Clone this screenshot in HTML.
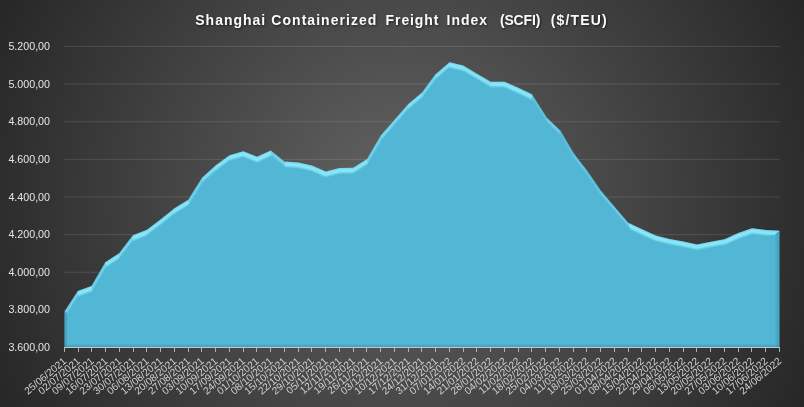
<!DOCTYPE html>
<html lang="en"><head><meta charset="utf-8"><title>Shanghai Containerized Freight Index (SCFI)</title>
<style>
html,body{margin:0;padding:0;background:#262626;}
body{width:804px;height:407px;overflow:hidden;font-family:"Liberation Sans",sans-serif;}
#chart{position:relative;width:804px;height:407px;overflow:hidden;
background:radial-gradient(circle 452px at 402px 203px,#646464 0%,#262626 100%);}
svg{position:absolute;left:0;top:0;}
.yl{font-family:"Liberation Sans",sans-serif;font-size:10.7px;fill:#e4e4e4;text-anchor:end;}
.xl{font-family:"Liberation Sans",sans-serif;font-size:10.2px;fill:#d2d2d2;text-anchor:end;}
.tt{font-family:"Liberation Sans",sans-serif;font-weight:bold;font-size:14px;fill:#fbfbfb;}
</style></head><body>
<div id="chart">
<svg width="804" height="407" viewBox="0 0 804 407">
<defs>
<clipPath id="ac"><path d="M64.50,347.50 L64.50,311.42 L77.75,290.90 L91.50,285.98 L105.25,262.31 L119.10,253.24 L132.85,235.33 L147.00,229.76 L160.75,219.29 L174.50,208.25 L188.25,199.71 L202.00,177.69 L215.75,165.36 L229.50,155.14 L243.25,151.14 L257.00,156.72 L270.75,150.42 L284.50,161.62 L298.25,162.50 L312.00,165.53 L325.75,171.43 L339.50,168.02 L353.25,167.80 L367.00,159.00 L380.75,135.47 L394.50,119.68 L408.25,103.95 L422.00,92.40 L435.25,74.55 L449.50,62.21 L463.25,65.57 L477.00,73.63 L490.75,81.68 L504.50,81.68 L518.25,87.71 L532.00,94.28 L546.95,117.68 L560.50,130.72 L574.05,153.86 L587.00,170.60 L600.75,190.59 L614.50,206.65 L628.25,222.65 L642.00,229.24 L655.75,235.38 L669.50,238.90 L683.25,241.45 L697.00,244.44 L710.75,241.64 L724.50,239.26 L738.25,233.12 L752.00,228.36 L765.75,229.99 L779.50,230.69 L779.50,347.50 Z"/></clipPath>
<filter id="bl" x="-5%" y="-5%" width="110%" height="110%"><feGaussianBlur stdDeviation="0.5"/></filter>
<filter id="ts" x="-5%" y="-50%" width="110%" height="200%"><feGaussianBlur stdDeviation="0.8"/></filter>
<linearGradient id="g0" gradientUnits="userSpaceOnUse" x1="71.12" y1="301.16" x2="74.34" y2="303.23"><stop offset="0" stop-color="#94f0ff" stop-opacity="0.268"/><stop offset="0.2" stop-color="#94f0ff" stop-opacity="0.385"/><stop offset="0.42" stop-color="#94f0ff" stop-opacity="0.471"/><stop offset="0.65" stop-color="#94f0ff" stop-opacity="0.353"/><stop offset="0.85" stop-color="#94f0ff" stop-opacity="0.139"/><stop offset="1" stop-color="#94f0ff" stop-opacity="0.000"/></linearGradient>
<linearGradient id="g1" gradientUnits="userSpaceOnUse" x1="84.62" y1="288.44" x2="86.73" y2="294.31"><stop offset="0" stop-color="#94f0ff" stop-opacity="0.500"/><stop offset="0.2" stop-color="#94f0ff" stop-opacity="0.720"/><stop offset="0.42" stop-color="#94f0ff" stop-opacity="0.880"/><stop offset="0.65" stop-color="#94f0ff" stop-opacity="0.660"/><stop offset="0.85" stop-color="#94f0ff" stop-opacity="0.260"/><stop offset="1" stop-color="#94f0ff" stop-opacity="0.000"/></linearGradient>
<linearGradient id="g2" gradientUnits="userSpaceOnUse" x1="98.38" y1="274.14" x2="101.63" y2="276.04"><stop offset="0" stop-color="#94f0ff" stop-opacity="0.255"/><stop offset="0.2" stop-color="#94f0ff" stop-opacity="0.367"/><stop offset="0.42" stop-color="#94f0ff" stop-opacity="0.449"/><stop offset="0.65" stop-color="#94f0ff" stop-opacity="0.337"/><stop offset="0.85" stop-color="#94f0ff" stop-opacity="0.133"/><stop offset="1" stop-color="#94f0ff" stop-opacity="0.000"/></linearGradient>
<linearGradient id="g3" gradientUnits="userSpaceOnUse" x1="112.17" y1="257.77" x2="115.12" y2="262.27"><stop offset="0" stop-color="#94f0ff" stop-opacity="0.484"/><stop offset="0.2" stop-color="#94f0ff" stop-opacity="0.697"/><stop offset="0.42" stop-color="#94f0ff" stop-opacity="0.852"/><stop offset="0.65" stop-color="#94f0ff" stop-opacity="0.639"/><stop offset="0.85" stop-color="#94f0ff" stop-opacity="0.252"/><stop offset="1" stop-color="#94f0ff" stop-opacity="0.000"/></linearGradient>
<linearGradient id="g4" gradientUnits="userSpaceOnUse" x1="125.97" y1="244.28" x2="129.12" y2="246.70"><stop offset="0" stop-color="#94f0ff" stop-opacity="0.310"/><stop offset="0.2" stop-color="#94f0ff" stop-opacity="0.446"/><stop offset="0.42" stop-color="#94f0ff" stop-opacity="0.545"/><stop offset="0.65" stop-color="#94f0ff" stop-opacity="0.409"/><stop offset="0.85" stop-color="#94f0ff" stop-opacity="0.161"/><stop offset="1" stop-color="#94f0ff" stop-opacity="0.000"/></linearGradient>
<linearGradient id="g5" gradientUnits="userSpaceOnUse" x1="139.93" y1="232.55" x2="142.21" y2="238.34"><stop offset="0" stop-color="#94f0ff" stop-opacity="0.500"/><stop offset="0.2" stop-color="#94f0ff" stop-opacity="0.720"/><stop offset="0.42" stop-color="#94f0ff" stop-opacity="0.880"/><stop offset="0.65" stop-color="#94f0ff" stop-opacity="0.660"/><stop offset="0.85" stop-color="#94f0ff" stop-opacity="0.260"/><stop offset="1" stop-color="#94f0ff" stop-opacity="0.000"/></linearGradient>
<linearGradient id="g6" gradientUnits="userSpaceOnUse" x1="153.88" y1="224.52" x2="156.89" y2="228.48"><stop offset="0" stop-color="#94f0ff" stop-opacity="0.464"/><stop offset="0.2" stop-color="#94f0ff" stop-opacity="0.667"/><stop offset="0.42" stop-color="#94f0ff" stop-opacity="0.816"/><stop offset="0.65" stop-color="#94f0ff" stop-opacity="0.612"/><stop offset="0.85" stop-color="#94f0ff" stop-opacity="0.241"/><stop offset="1" stop-color="#94f0ff" stop-opacity="0.000"/></linearGradient>
<linearGradient id="g7" gradientUnits="userSpaceOnUse" x1="167.62" y1="213.77" x2="170.65" y2="217.53"><stop offset="0" stop-color="#94f0ff" stop-opacity="0.449"/><stop offset="0.2" stop-color="#94f0ff" stop-opacity="0.646"/><stop offset="0.42" stop-color="#94f0ff" stop-opacity="0.790"/><stop offset="0.65" stop-color="#94f0ff" stop-opacity="0.592"/><stop offset="0.85" stop-color="#94f0ff" stop-opacity="0.233"/><stop offset="1" stop-color="#94f0ff" stop-opacity="0.000"/></linearGradient>
<linearGradient id="g8" gradientUnits="userSpaceOnUse" x1="181.38" y1="203.98" x2="184.29" y2="208.66"><stop offset="0" stop-color="#94f0ff" stop-opacity="0.491"/><stop offset="0.2" stop-color="#94f0ff" stop-opacity="0.707"/><stop offset="0.42" stop-color="#94f0ff" stop-opacity="0.864"/><stop offset="0.65" stop-color="#94f0ff" stop-opacity="0.648"/><stop offset="0.85" stop-color="#94f0ff" stop-opacity="0.255"/><stop offset="1" stop-color="#94f0ff" stop-opacity="0.000"/></linearGradient>
<linearGradient id="g9" gradientUnits="userSpaceOnUse" x1="195.12" y1="188.70" x2="198.35" y2="190.71"><stop offset="0" stop-color="#94f0ff" stop-opacity="0.260"/><stop offset="0.2" stop-color="#94f0ff" stop-opacity="0.374"/><stop offset="0.42" stop-color="#94f0ff" stop-opacity="0.458"/><stop offset="0.65" stop-color="#94f0ff" stop-opacity="0.343"/><stop offset="0.85" stop-color="#94f0ff" stop-opacity="0.135"/><stop offset="1" stop-color="#94f0ff" stop-opacity="0.000"/></linearGradient>
<linearGradient id="g10" gradientUnits="userSpaceOnUse" x1="208.88" y1="171.53" x2="211.89" y2="174.89"><stop offset="0" stop-color="#94f0ff" stop-opacity="0.402"/><stop offset="0.2" stop-color="#94f0ff" stop-opacity="0.579"/><stop offset="0.42" stop-color="#94f0ff" stop-opacity="0.707"/><stop offset="0.65" stop-color="#94f0ff" stop-opacity="0.531"/><stop offset="0.85" stop-color="#94f0ff" stop-opacity="0.209"/><stop offset="1" stop-color="#94f0ff" stop-opacity="0.000"/></linearGradient>
<linearGradient id="g11" gradientUnits="userSpaceOnUse" x1="222.62" y1="160.25" x2="225.63" y2="164.29"><stop offset="0" stop-color="#94f0ff" stop-opacity="0.467"/><stop offset="0.2" stop-color="#94f0ff" stop-opacity="0.672"/><stop offset="0.42" stop-color="#94f0ff" stop-opacity="0.822"/><stop offset="0.65" stop-color="#94f0ff" stop-opacity="0.616"/><stop offset="0.85" stop-color="#94f0ff" stop-opacity="0.243"/><stop offset="1" stop-color="#94f0ff" stop-opacity="0.000"/></linearGradient>
<linearGradient id="g12" gradientUnits="userSpaceOnUse" x1="236.38" y1="153.14" x2="238.13" y2="159.16"><stop offset="0" stop-color="#94f0ff" stop-opacity="0.500"/><stop offset="0.2" stop-color="#94f0ff" stop-opacity="0.720"/><stop offset="0.42" stop-color="#94f0ff" stop-opacity="0.880"/><stop offset="0.65" stop-color="#94f0ff" stop-opacity="0.660"/><stop offset="0.85" stop-color="#94f0ff" stop-opacity="0.260"/><stop offset="1" stop-color="#94f0ff" stop-opacity="0.000"/></linearGradient>
<linearGradient id="g13" gradientUnits="userSpaceOnUse" x1="250.12" y1="153.93" x2="247.78" y2="159.70"><stop offset="0" stop-color="#94f0ff" stop-opacity="0.500"/><stop offset="0.2" stop-color="#94f0ff" stop-opacity="0.720"/><stop offset="0.42" stop-color="#94f0ff" stop-opacity="0.880"/><stop offset="0.65" stop-color="#94f0ff" stop-opacity="0.660"/><stop offset="0.85" stop-color="#94f0ff" stop-opacity="0.260"/><stop offset="1" stop-color="#94f0ff" stop-opacity="0.000"/></linearGradient>
<linearGradient id="g14" gradientUnits="userSpaceOnUse" x1="263.88" y1="153.57" x2="266.46" y2="159.21"><stop offset="0" stop-color="#94f0ff" stop-opacity="0.500"/><stop offset="0.2" stop-color="#94f0ff" stop-opacity="0.720"/><stop offset="0.42" stop-color="#94f0ff" stop-opacity="0.880"/><stop offset="0.65" stop-color="#94f0ff" stop-opacity="0.660"/><stop offset="0.85" stop-color="#94f0ff" stop-opacity="0.260"/><stop offset="1" stop-color="#94f0ff" stop-opacity="0.000"/></linearGradient>
<linearGradient id="g15" gradientUnits="userSpaceOnUse" x1="277.62" y1="156.02" x2="274.90" y2="159.36"><stop offset="0" stop-color="#94f0ff" stop-opacity="0.291"/><stop offset="0.2" stop-color="#94f0ff" stop-opacity="0.419"/><stop offset="0.42" stop-color="#94f0ff" stop-opacity="0.513"/><stop offset="0.65" stop-color="#94f0ff" stop-opacity="0.385"/><stop offset="0.85" stop-color="#94f0ff" stop-opacity="0.151"/><stop offset="1" stop-color="#94f0ff" stop-opacity="0.000"/></linearGradient>
<linearGradient id="g16" gradientUnits="userSpaceOnUse" x1="291.38" y1="162.06" x2="290.97" y2="168.42"><stop offset="0" stop-color="#94f0ff" stop-opacity="0.500"/><stop offset="0.2" stop-color="#94f0ff" stop-opacity="0.720"/><stop offset="0.42" stop-color="#94f0ff" stop-opacity="0.880"/><stop offset="0.65" stop-color="#94f0ff" stop-opacity="0.660"/><stop offset="0.85" stop-color="#94f0ff" stop-opacity="0.260"/><stop offset="1" stop-color="#94f0ff" stop-opacity="0.000"/></linearGradient>
<linearGradient id="g17" gradientUnits="userSpaceOnUse" x1="305.12" y1="164.02" x2="303.77" y2="170.17"><stop offset="0" stop-color="#94f0ff" stop-opacity="0.500"/><stop offset="0.2" stop-color="#94f0ff" stop-opacity="0.720"/><stop offset="0.42" stop-color="#94f0ff" stop-opacity="0.880"/><stop offset="0.65" stop-color="#94f0ff" stop-opacity="0.660"/><stop offset="0.85" stop-color="#94f0ff" stop-opacity="0.260"/><stop offset="1" stop-color="#94f0ff" stop-opacity="0.000"/></linearGradient>
<linearGradient id="g18" gradientUnits="userSpaceOnUse" x1="318.88" y1="168.48" x2="316.42" y2="174.19"><stop offset="0" stop-color="#94f0ff" stop-opacity="0.500"/><stop offset="0.2" stop-color="#94f0ff" stop-opacity="0.720"/><stop offset="0.42" stop-color="#94f0ff" stop-opacity="0.880"/><stop offset="0.65" stop-color="#94f0ff" stop-opacity="0.660"/><stop offset="0.85" stop-color="#94f0ff" stop-opacity="0.260"/><stop offset="1" stop-color="#94f0ff" stop-opacity="0.000"/></linearGradient>
<linearGradient id="g19" gradientUnits="userSpaceOnUse" x1="332.62" y1="169.73" x2="334.14" y2="175.83"><stop offset="0" stop-color="#94f0ff" stop-opacity="0.500"/><stop offset="0.2" stop-color="#94f0ff" stop-opacity="0.720"/><stop offset="0.42" stop-color="#94f0ff" stop-opacity="0.880"/><stop offset="0.65" stop-color="#94f0ff" stop-opacity="0.660"/><stop offset="0.85" stop-color="#94f0ff" stop-opacity="0.260"/><stop offset="1" stop-color="#94f0ff" stop-opacity="0.000"/></linearGradient>
<linearGradient id="g20" gradientUnits="userSpaceOnUse" x1="346.38" y1="167.91" x2="346.48" y2="174.30"><stop offset="0" stop-color="#94f0ff" stop-opacity="0.500"/><stop offset="0.2" stop-color="#94f0ff" stop-opacity="0.720"/><stop offset="0.42" stop-color="#94f0ff" stop-opacity="0.880"/><stop offset="0.65" stop-color="#94f0ff" stop-opacity="0.660"/><stop offset="0.85" stop-color="#94f0ff" stop-opacity="0.260"/><stop offset="1" stop-color="#94f0ff" stop-opacity="0.000"/></linearGradient>
<linearGradient id="g21" gradientUnits="userSpaceOnUse" x1="360.12" y1="163.40" x2="363.06" y2="167.98"><stop offset="0" stop-color="#94f0ff" stop-opacity="0.487"/><stop offset="0.2" stop-color="#94f0ff" stop-opacity="0.701"/><stop offset="0.42" stop-color="#94f0ff" stop-opacity="0.857"/><stop offset="0.65" stop-color="#94f0ff" stop-opacity="0.643"/><stop offset="0.85" stop-color="#94f0ff" stop-opacity="0.253"/><stop offset="1" stop-color="#94f0ff" stop-opacity="0.000"/></linearGradient>
<linearGradient id="g22" gradientUnits="userSpaceOnUse" x1="373.88" y1="147.24" x2="377.13" y2="149.14"><stop offset="0" stop-color="#94f0ff" stop-opacity="0.255"/><stop offset="0.2" stop-color="#94f0ff" stop-opacity="0.368"/><stop offset="0.42" stop-color="#94f0ff" stop-opacity="0.450"/><stop offset="0.65" stop-color="#94f0ff" stop-opacity="0.337"/><stop offset="0.85" stop-color="#94f0ff" stop-opacity="0.133"/><stop offset="1" stop-color="#94f0ff" stop-opacity="0.000"/></linearGradient>
<linearGradient id="g23" gradientUnits="userSpaceOnUse" x1="387.62" y1="127.58" x2="390.70" y2="130.25"><stop offset="0" stop-color="#94f0ff" stop-opacity="0.341"/><stop offset="0.2" stop-color="#94f0ff" stop-opacity="0.492"/><stop offset="0.42" stop-color="#94f0ff" stop-opacity="0.601"/><stop offset="0.65" stop-color="#94f0ff" stop-opacity="0.451"/><stop offset="0.85" stop-color="#94f0ff" stop-opacity="0.178"/><stop offset="1" stop-color="#94f0ff" stop-opacity="0.000"/></linearGradient>
<linearGradient id="g24" gradientUnits="userSpaceOnUse" x1="401.38" y1="111.82" x2="404.44" y2="114.50"><stop offset="0" stop-color="#94f0ff" stop-opacity="0.342"/><stop offset="0.2" stop-color="#94f0ff" stop-opacity="0.493"/><stop offset="0.42" stop-color="#94f0ff" stop-opacity="0.603"/><stop offset="0.65" stop-color="#94f0ff" stop-opacity="0.452"/><stop offset="0.85" stop-color="#94f0ff" stop-opacity="0.178"/><stop offset="1" stop-color="#94f0ff" stop-opacity="0.000"/></linearGradient>
<linearGradient id="g25" gradientUnits="userSpaceOnUse" x1="415.12" y1="98.17" x2="418.15" y2="101.77"><stop offset="0" stop-color="#94f0ff" stop-opacity="0.430"/><stop offset="0.2" stop-color="#94f0ff" stop-opacity="0.619"/><stop offset="0.42" stop-color="#94f0ff" stop-opacity="0.756"/><stop offset="0.65" stop-color="#94f0ff" stop-opacity="0.567"/><stop offset="0.85" stop-color="#94f0ff" stop-opacity="0.223"/><stop offset="1" stop-color="#94f0ff" stop-opacity="0.000"/></linearGradient>
<linearGradient id="g26" gradientUnits="userSpaceOnUse" x1="428.62" y1="83.47" x2="431.79" y2="85.82"><stop offset="0" stop-color="#94f0ff" stop-opacity="0.301"/><stop offset="0.2" stop-color="#94f0ff" stop-opacity="0.434"/><stop offset="0.42" stop-color="#94f0ff" stop-opacity="0.530"/><stop offset="0.65" stop-color="#94f0ff" stop-opacity="0.398"/><stop offset="0.85" stop-color="#94f0ff" stop-opacity="0.157"/><stop offset="1" stop-color="#94f0ff" stop-opacity="0.000"/></linearGradient>
<linearGradient id="g27" gradientUnits="userSpaceOnUse" x1="442.38" y1="68.38" x2="445.39" y2="71.86"><stop offset="0" stop-color="#94f0ff" stop-opacity="0.417"/><stop offset="0.2" stop-color="#94f0ff" stop-opacity="0.600"/><stop offset="0.42" stop-color="#94f0ff" stop-opacity="0.733"/><stop offset="0.65" stop-color="#94f0ff" stop-opacity="0.550"/><stop offset="0.85" stop-color="#94f0ff" stop-opacity="0.217"/><stop offset="1" stop-color="#94f0ff" stop-opacity="0.000"/></linearGradient>
<linearGradient id="g28" gradientUnits="userSpaceOnUse" x1="456.38" y1="63.89" x2="454.88" y2="70.00"><stop offset="0" stop-color="#94f0ff" stop-opacity="0.500"/><stop offset="0.2" stop-color="#94f0ff" stop-opacity="0.720"/><stop offset="0.42" stop-color="#94f0ff" stop-opacity="0.880"/><stop offset="0.65" stop-color="#94f0ff" stop-opacity="0.660"/><stop offset="0.85" stop-color="#94f0ff" stop-opacity="0.260"/><stop offset="1" stop-color="#94f0ff" stop-opacity="0.000"/></linearGradient>
<linearGradient id="g29" gradientUnits="userSpaceOnUse" x1="470.12" y1="69.60" x2="467.35" y2="74.33"><stop offset="0" stop-color="#94f0ff" stop-opacity="0.456"/><stop offset="0.2" stop-color="#94f0ff" stop-opacity="0.657"/><stop offset="0.42" stop-color="#94f0ff" stop-opacity="0.803"/><stop offset="0.65" stop-color="#94f0ff" stop-opacity="0.602"/><stop offset="0.85" stop-color="#94f0ff" stop-opacity="0.237"/><stop offset="1" stop-color="#94f0ff" stop-opacity="0.000"/></linearGradient>
<linearGradient id="g30" gradientUnits="userSpaceOnUse" x1="483.88" y1="77.65" x2="481.10" y2="82.39"><stop offset="0" stop-color="#94f0ff" stop-opacity="0.457"/><stop offset="0.2" stop-color="#94f0ff" stop-opacity="0.658"/><stop offset="0.42" stop-color="#94f0ff" stop-opacity="0.804"/><stop offset="0.65" stop-color="#94f0ff" stop-opacity="0.603"/><stop offset="0.85" stop-color="#94f0ff" stop-opacity="0.237"/><stop offset="1" stop-color="#94f0ff" stop-opacity="0.000"/></linearGradient>
<linearGradient id="g31" gradientUnits="userSpaceOnUse" x1="497.62" y1="81.68" x2="497.62" y2="88.08"><stop offset="0" stop-color="#94f0ff" stop-opacity="0.500"/><stop offset="0.2" stop-color="#94f0ff" stop-opacity="0.720"/><stop offset="0.42" stop-color="#94f0ff" stop-opacity="0.880"/><stop offset="0.65" stop-color="#94f0ff" stop-opacity="0.660"/><stop offset="0.85" stop-color="#94f0ff" stop-opacity="0.260"/><stop offset="1" stop-color="#94f0ff" stop-opacity="0.000"/></linearGradient>
<linearGradient id="g32" gradientUnits="userSpaceOnUse" x1="511.38" y1="84.69" x2="508.88" y2="90.38"><stop offset="0" stop-color="#94f0ff" stop-opacity="0.500"/><stop offset="0.2" stop-color="#94f0ff" stop-opacity="0.720"/><stop offset="0.42" stop-color="#94f0ff" stop-opacity="0.880"/><stop offset="0.65" stop-color="#94f0ff" stop-opacity="0.660"/><stop offset="0.85" stop-color="#94f0ff" stop-opacity="0.260"/><stop offset="1" stop-color="#94f0ff" stop-opacity="0.000"/></linearGradient>
<linearGradient id="g33" gradientUnits="userSpaceOnUse" x1="525.12" y1="91.00" x2="522.48" y2="96.53"><stop offset="0" stop-color="#94f0ff" stop-opacity="0.500"/><stop offset="0.2" stop-color="#94f0ff" stop-opacity="0.720"/><stop offset="0.42" stop-color="#94f0ff" stop-opacity="0.880"/><stop offset="0.65" stop-color="#94f0ff" stop-opacity="0.660"/><stop offset="0.85" stop-color="#94f0ff" stop-opacity="0.260"/><stop offset="1" stop-color="#94f0ff" stop-opacity="0.000"/></linearGradient>
<linearGradient id="g34" gradientUnits="userSpaceOnUse" x1="539.48" y1="105.98" x2="536.70" y2="107.75"><stop offset="0" stop-color="#94f0ff" stop-opacity="0.103"/><stop offset="0.2" stop-color="#94f0ff" stop-opacity="0.148"/><stop offset="0.42" stop-color="#94f0ff" stop-opacity="0.181"/><stop offset="0.65" stop-color="#94f0ff" stop-opacity="0.136"/><stop offset="0.85" stop-color="#94f0ff" stop-opacity="0.053"/><stop offset="1" stop-color="#94f0ff" stop-opacity="0.000"/></linearGradient>
<linearGradient id="g35" gradientUnits="userSpaceOnUse" x1="553.73" y1="124.20" x2="551.17" y2="126.85"><stop offset="0" stop-color="#94f0ff" stop-opacity="0.247"/><stop offset="0.2" stop-color="#94f0ff" stop-opacity="0.355"/><stop offset="0.42" stop-color="#94f0ff" stop-opacity="0.434"/><stop offset="0.65" stop-color="#94f0ff" stop-opacity="0.326"/><stop offset="0.85" stop-color="#94f0ff" stop-opacity="0.128"/><stop offset="1" stop-color="#94f0ff" stop-opacity="0.000"/></linearGradient>
<linearGradient id="g36" gradientUnits="userSpaceOnUse" x1="567.27" y1="142.29" x2="564.45" y2="143.95"><stop offset="0" stop-color="#94f0ff" stop-opacity="0.075"/><stop offset="0.2" stop-color="#94f0ff" stop-opacity="0.107"/><stop offset="0.42" stop-color="#94f0ff" stop-opacity="0.131"/><stop offset="0.65" stop-color="#94f0ff" stop-opacity="0.098"/><stop offset="0.85" stop-color="#94f0ff" stop-opacity="0.039"/><stop offset="1" stop-color="#94f0ff" stop-opacity="0.000"/></linearGradient>
<linearGradient id="g37" gradientUnits="userSpaceOnUse" x1="580.52" y1="162.23" x2="577.88" y2="164.28"><stop offset="0" stop-color="#94f0ff" stop-opacity="0.168"/><stop offset="0.2" stop-color="#94f0ff" stop-opacity="0.242"/><stop offset="0.42" stop-color="#94f0ff" stop-opacity="0.296"/><stop offset="0.65" stop-color="#94f0ff" stop-opacity="0.222"/><stop offset="0.85" stop-color="#94f0ff" stop-opacity="0.087"/><stop offset="1" stop-color="#94f0ff" stop-opacity="0.000"/></linearGradient>
<linearGradient id="g38" gradientUnits="userSpaceOnUse" x1="593.88" y1="180.60" x2="591.14" y2="182.48"><stop offset="0" stop-color="#94f0ff" stop-opacity="0.128"/><stop offset="0.2" stop-color="#94f0ff" stop-opacity="0.184"/><stop offset="0.42" stop-color="#94f0ff" stop-opacity="0.225"/><stop offset="0.65" stop-color="#94f0ff" stop-opacity="0.168"/><stop offset="0.85" stop-color="#94f0ff" stop-opacity="0.066"/><stop offset="1" stop-color="#94f0ff" stop-opacity="0.000"/></linearGradient>
<linearGradient id="g39" gradientUnits="userSpaceOnUse" x1="607.62" y1="198.62" x2="605.07" y2="200.81"><stop offset="0" stop-color="#94f0ff" stop-opacity="0.205"/><stop offset="0.2" stop-color="#94f0ff" stop-opacity="0.295"/><stop offset="0.42" stop-color="#94f0ff" stop-opacity="0.360"/><stop offset="0.65" stop-color="#94f0ff" stop-opacity="0.270"/><stop offset="0.85" stop-color="#94f0ff" stop-opacity="0.106"/><stop offset="1" stop-color="#94f0ff" stop-opacity="0.000"/></linearGradient>
<linearGradient id="g40" gradientUnits="userSpaceOnUse" x1="621.38" y1="214.65" x2="618.82" y2="216.85"><stop offset="0" stop-color="#94f0ff" stop-opacity="0.206"/><stop offset="0.2" stop-color="#94f0ff" stop-opacity="0.296"/><stop offset="0.42" stop-color="#94f0ff" stop-opacity="0.362"/><stop offset="0.65" stop-color="#94f0ff" stop-opacity="0.272"/><stop offset="0.85" stop-color="#94f0ff" stop-opacity="0.107"/><stop offset="1" stop-color="#94f0ff" stop-opacity="0.000"/></linearGradient>
<linearGradient id="g41" gradientUnits="userSpaceOnUse" x1="635.12" y1="225.94" x2="632.48" y2="231.46"><stop offset="0" stop-color="#94f0ff" stop-opacity="0.500"/><stop offset="0.2" stop-color="#94f0ff" stop-opacity="0.720"/><stop offset="0.42" stop-color="#94f0ff" stop-opacity="0.880"/><stop offset="0.65" stop-color="#94f0ff" stop-opacity="0.660"/><stop offset="0.85" stop-color="#94f0ff" stop-opacity="0.260"/><stop offset="1" stop-color="#94f0ff" stop-opacity="0.000"/></linearGradient>
<linearGradient id="g42" gradientUnits="userSpaceOnUse" x1="648.88" y1="232.31" x2="646.34" y2="237.98"><stop offset="0" stop-color="#94f0ff" stop-opacity="0.500"/><stop offset="0.2" stop-color="#94f0ff" stop-opacity="0.720"/><stop offset="0.42" stop-color="#94f0ff" stop-opacity="0.880"/><stop offset="0.65" stop-color="#94f0ff" stop-opacity="0.660"/><stop offset="0.85" stop-color="#94f0ff" stop-opacity="0.260"/><stop offset="1" stop-color="#94f0ff" stop-opacity="0.000"/></linearGradient>
<linearGradient id="g43" gradientUnits="userSpaceOnUse" x1="662.62" y1="237.14" x2="661.07" y2="243.23"><stop offset="0" stop-color="#94f0ff" stop-opacity="0.500"/><stop offset="0.2" stop-color="#94f0ff" stop-opacity="0.720"/><stop offset="0.42" stop-color="#94f0ff" stop-opacity="0.880"/><stop offset="0.65" stop-color="#94f0ff" stop-opacity="0.660"/><stop offset="0.85" stop-color="#94f0ff" stop-opacity="0.260"/><stop offset="1" stop-color="#94f0ff" stop-opacity="0.000"/></linearGradient>
<linearGradient id="g44" gradientUnits="userSpaceOnUse" x1="676.38" y1="240.17" x2="675.22" y2="246.38"><stop offset="0" stop-color="#94f0ff" stop-opacity="0.500"/><stop offset="0.2" stop-color="#94f0ff" stop-opacity="0.720"/><stop offset="0.42" stop-color="#94f0ff" stop-opacity="0.880"/><stop offset="0.65" stop-color="#94f0ff" stop-opacity="0.660"/><stop offset="0.85" stop-color="#94f0ff" stop-opacity="0.260"/><stop offset="1" stop-color="#94f0ff" stop-opacity="0.000"/></linearGradient>
<linearGradient id="g45" gradientUnits="userSpaceOnUse" x1="690.12" y1="242.94" x2="688.78" y2="249.10"><stop offset="0" stop-color="#94f0ff" stop-opacity="0.500"/><stop offset="0.2" stop-color="#94f0ff" stop-opacity="0.720"/><stop offset="0.42" stop-color="#94f0ff" stop-opacity="0.880"/><stop offset="0.65" stop-color="#94f0ff" stop-opacity="0.660"/><stop offset="0.85" stop-color="#94f0ff" stop-opacity="0.260"/><stop offset="1" stop-color="#94f0ff" stop-opacity="0.000"/></linearGradient>
<linearGradient id="g46" gradientUnits="userSpaceOnUse" x1="703.88" y1="243.04" x2="705.13" y2="249.22"><stop offset="0" stop-color="#94f0ff" stop-opacity="0.500"/><stop offset="0.2" stop-color="#94f0ff" stop-opacity="0.720"/><stop offset="0.42" stop-color="#94f0ff" stop-opacity="0.880"/><stop offset="0.65" stop-color="#94f0ff" stop-opacity="0.660"/><stop offset="0.85" stop-color="#94f0ff" stop-opacity="0.260"/><stop offset="1" stop-color="#94f0ff" stop-opacity="0.000"/></linearGradient>
<linearGradient id="g47" gradientUnits="userSpaceOnUse" x1="717.62" y1="240.45" x2="718.70" y2="246.68"><stop offset="0" stop-color="#94f0ff" stop-opacity="0.500"/><stop offset="0.2" stop-color="#94f0ff" stop-opacity="0.720"/><stop offset="0.42" stop-color="#94f0ff" stop-opacity="0.880"/><stop offset="0.65" stop-color="#94f0ff" stop-opacity="0.660"/><stop offset="0.85" stop-color="#94f0ff" stop-opacity="0.260"/><stop offset="1" stop-color="#94f0ff" stop-opacity="0.000"/></linearGradient>
<linearGradient id="g48" gradientUnits="userSpaceOnUse" x1="731.38" y1="236.19" x2="733.91" y2="241.86"><stop offset="0" stop-color="#94f0ff" stop-opacity="0.500"/><stop offset="0.2" stop-color="#94f0ff" stop-opacity="0.720"/><stop offset="0.42" stop-color="#94f0ff" stop-opacity="0.880"/><stop offset="0.65" stop-color="#94f0ff" stop-opacity="0.660"/><stop offset="0.85" stop-color="#94f0ff" stop-opacity="0.260"/><stop offset="1" stop-color="#94f0ff" stop-opacity="0.000"/></linearGradient>
<linearGradient id="g49" gradientUnits="userSpaceOnUse" x1="745.12" y1="230.74" x2="747.17" y2="236.64"><stop offset="0" stop-color="#94f0ff" stop-opacity="0.500"/><stop offset="0.2" stop-color="#94f0ff" stop-opacity="0.720"/><stop offset="0.42" stop-color="#94f0ff" stop-opacity="0.880"/><stop offset="0.65" stop-color="#94f0ff" stop-opacity="0.660"/><stop offset="0.85" stop-color="#94f0ff" stop-opacity="0.260"/><stop offset="1" stop-color="#94f0ff" stop-opacity="0.000"/></linearGradient>
<linearGradient id="g50" gradientUnits="userSpaceOnUse" x1="758.88" y1="229.18" x2="758.13" y2="235.48"><stop offset="0" stop-color="#94f0ff" stop-opacity="0.500"/><stop offset="0.2" stop-color="#94f0ff" stop-opacity="0.720"/><stop offset="0.42" stop-color="#94f0ff" stop-opacity="0.880"/><stop offset="0.65" stop-color="#94f0ff" stop-opacity="0.660"/><stop offset="0.85" stop-color="#94f0ff" stop-opacity="0.260"/><stop offset="1" stop-color="#94f0ff" stop-opacity="0.000"/></linearGradient>
<linearGradient id="g51" gradientUnits="userSpaceOnUse" x1="772.62" y1="230.34" x2="772.30" y2="236.71"><stop offset="0" stop-color="#94f0ff" stop-opacity="0.500"/><stop offset="0.2" stop-color="#94f0ff" stop-opacity="0.720"/><stop offset="0.42" stop-color="#94f0ff" stop-opacity="0.880"/><stop offset="0.65" stop-color="#94f0ff" stop-opacity="0.660"/><stop offset="0.85" stop-color="#94f0ff" stop-opacity="0.260"/><stop offset="1" stop-color="#94f0ff" stop-opacity="0.000"/></linearGradient>
<linearGradient id="gr" gradientUnits="userSpaceOnUse" x1="779.50" y1="0" x2="774.70" y2="0"><stop offset="0" stop-color="#1f6f8c" stop-opacity="0.32"/><stop offset="0.55" stop-color="#1f6f8c" stop-opacity="0.2"/><stop offset="1" stop-color="#1f6f8c" stop-opacity="0"/></linearGradient>
<linearGradient id="gb" gradientUnits="userSpaceOnUse" x1="0" y1="347.5" x2="0" y2="343.9"><stop offset="0" stop-color="#1f6f8c" stop-opacity="0.36"/><stop offset="0.5" stop-color="#1f6f8c" stop-opacity="0.2"/><stop offset="1" stop-color="#1f6f8c" stop-opacity="0"/></linearGradient>
</defs>
<line x1="64" x2="780" y1="309.88" y2="309.88" stroke="#f2f2f2" stroke-opacity="0.13" stroke-width="1"/>
<line x1="64" x2="780" y1="272.25" y2="272.25" stroke="#f2f2f2" stroke-opacity="0.13" stroke-width="1"/>
<line x1="64" x2="780" y1="234.62" y2="234.62" stroke="#f2f2f2" stroke-opacity="0.13" stroke-width="1"/>
<line x1="64" x2="780" y1="197.00" y2="197.00" stroke="#f2f2f2" stroke-opacity="0.13" stroke-width="1"/>
<line x1="64" x2="780" y1="159.38" y2="159.38" stroke="#f2f2f2" stroke-opacity="0.13" stroke-width="1"/>
<line x1="64" x2="780" y1="121.75" y2="121.75" stroke="#f2f2f2" stroke-opacity="0.13" stroke-width="1"/>
<line x1="64" x2="780" y1="84.12" y2="84.12" stroke="#f2f2f2" stroke-opacity="0.13" stroke-width="1"/>
<line x1="64" x2="780" y1="46.50" y2="46.50" stroke="#f2f2f2" stroke-opacity="0.13" stroke-width="1"/>
<path d="M64.50,347.50 L64.50,311.42 L77.75,290.90 L91.50,285.98 L105.25,262.31 L119.10,253.24 L132.85,235.33 L147.00,229.76 L160.75,219.29 L174.50,208.25 L188.25,199.71 L202.00,177.69 L215.75,165.36 L229.50,155.14 L243.25,151.14 L257.00,156.72 L270.75,150.42 L284.50,161.62 L298.25,162.50 L312.00,165.53 L325.75,171.43 L339.50,168.02 L353.25,167.80 L367.00,159.00 L380.75,135.47 L394.50,119.68 L408.25,103.95 L422.00,92.40 L435.25,74.55 L449.50,62.21 L463.25,65.57 L477.00,73.63 L490.75,81.68 L504.50,81.68 L518.25,87.71 L532.00,94.28 L546.95,117.68 L560.50,130.72 L574.05,153.86 L587.00,170.60 L600.75,190.59 L614.50,206.65 L628.25,222.65 L642.00,229.24 L655.75,235.38 L669.50,238.90 L683.25,241.45 L697.00,244.44 L710.75,241.64 L724.50,239.26 L738.25,233.12 L752.00,228.36 L765.75,229.99 L779.50,230.69 L779.50,347.50 Z" fill="#52b6d5"/>
<g clip-path="url(#ac)"><g filter="url(#bl)">
<line x1="64.50" x2="64.50" y1="311.42" y2="347.5" stroke="#2b7f9d" stroke-opacity="0.3" stroke-width="5"/>
<rect x="64.50" y="343.9" width="715.00" height="4" fill="url(#gb)"/>
<path d="M64.50,308.42 L77.75,287.90 L77.75,290.90 L78.11,297.40 L67.71,313.50 L64.50,311.42 Z" fill="url(#g0)" shape-rendering="crispEdges"/>
<path d="M77.75,287.90 L91.50,282.98 L91.50,285.98 L92.13,292.38 L78.11,297.40 L77.75,290.90 Z" fill="url(#g1)" shape-rendering="crispEdges"/>
<path d="M91.50,282.98 L105.25,259.31 L105.25,262.31 L106.25,268.08 L92.13,292.38 L91.50,285.98 Z" fill="url(#g2)" shape-rendering="crispEdges"/>
<path d="M105.25,259.31 L119.10,250.24 L119.10,253.24 L119.23,259.58 L106.25,268.08 L105.25,262.31 Z" fill="url(#g3)" shape-rendering="crispEdges"/>
<path d="M119.10,250.24 L132.85,232.33 L132.85,235.33 L132.65,242.11 L119.23,259.58 L119.10,253.24 Z" fill="url(#g4)" shape-rendering="crispEdges"/>
<path d="M132.85,232.33 L147.00,226.76 L147.00,229.76 L145.79,236.93 L132.65,242.11 L132.85,235.33 Z" fill="url(#g5)" shape-rendering="crispEdges"/>
<path d="M147.00,226.76 L160.75,216.29 L160.75,219.29 L163.77,223.15 L145.79,236.93 L147.00,229.76 Z" fill="url(#g6)" shape-rendering="crispEdges"/>
<path d="M160.75,216.29 L174.50,205.25 L174.50,208.25 L172.81,215.79 L163.77,223.15 L160.75,219.29 Z" fill="url(#g7)" shape-rendering="crispEdges"/>
<path d="M174.50,205.25 L188.25,196.71 L188.25,199.71 L188.95,205.76 L172.81,215.79 L174.50,208.25 Z" fill="url(#g8)" shape-rendering="crispEdges"/>
<path d="M188.25,196.71 L202.00,174.69 L202.00,177.69 L203.58,182.33 L188.95,205.76 L188.25,199.71 Z" fill="url(#g9)" shape-rendering="crispEdges"/>
<path d="M202.00,174.69 L215.75,162.36 L215.75,165.36 L214.34,172.69 L203.58,182.33 L202.00,177.69 Z" fill="url(#g10)" shape-rendering="crispEdges"/>
<path d="M215.75,162.36 L229.50,152.14 L229.50,155.14 L228.94,161.83 L214.34,172.69 L215.75,165.36 Z" fill="url(#g11)" shape-rendering="crispEdges"/>
<path d="M229.50,152.14 L243.25,148.14 L243.25,151.14 L242.98,157.75 L228.94,161.83 L229.50,155.14 Z" fill="url(#g12)" shape-rendering="crispEdges"/>
<path d="M243.25,148.14 L257.00,153.72 L257.00,156.72 L257.12,163.49 L242.98,157.75 L243.25,151.14 Z" fill="url(#g13)" shape-rendering="crispEdges"/>
<path d="M257.00,153.72 L270.75,147.42 L270.75,150.42 L271.74,156.79 L257.12,163.49 L257.00,156.72 Z" fill="url(#g14)" shape-rendering="crispEdges"/>
<path d="M270.75,147.42 L284.50,158.62 L284.50,161.62 L285.60,168.07 L271.74,156.79 L270.75,150.42 Z" fill="url(#g15)" shape-rendering="crispEdges"/>
<path d="M284.50,158.62 L298.25,159.50 L298.25,162.50 L297.81,168.86 L285.60,168.07 L284.50,161.62 Z" fill="url(#g16)" shape-rendering="crispEdges"/>
<path d="M298.25,159.50 L312.00,162.53 L312.00,165.53 L310.51,171.65 L297.81,168.86 L298.25,162.50 Z" fill="url(#g17)" shape-rendering="crispEdges"/>
<path d="M312.00,162.53 L325.75,168.43 L325.75,171.43 L325.33,178.01 L310.51,171.65 L312.00,165.53 Z" fill="url(#g18)" shape-rendering="crispEdges"/>
<path d="M325.75,168.43 L339.50,165.02 L339.50,168.02 L339.87,174.41 L325.33,178.01 L325.75,171.43 Z" fill="url(#g19)" shape-rendering="crispEdges"/>
<path d="M339.50,165.02 L353.25,164.80 L353.25,167.80 L353.35,174.19 L339.87,174.41 L339.50,168.02 Z" fill="url(#g20)" shape-rendering="crispEdges"/>
<path d="M353.25,164.80 L367.00,156.00 L367.00,159.00 L367.94,164.86 L353.35,174.19 L353.25,167.80 Z" fill="url(#g21)" shape-rendering="crispEdges"/>
<path d="M367.00,156.00 L380.75,132.47 L380.75,135.47 L383.00,139.08 L367.94,164.86 L367.00,159.00 Z" fill="url(#g22)" shape-rendering="crispEdges"/>
<path d="M380.75,132.47 L394.50,116.68 L394.50,119.68 L397.57,122.36 L383.00,139.08 L380.75,135.47 Z" fill="url(#g23)" shape-rendering="crispEdges"/>
<path d="M394.50,116.68 L408.25,100.95 L408.25,103.95 L408.44,109.92 L397.57,122.36 L394.50,119.68 Z" fill="url(#g24)" shape-rendering="crispEdges"/>
<path d="M408.25,100.95 L422.00,89.40 L422.00,92.40 L422.93,97.75 L408.44,109.92 L408.25,103.95 Z" fill="url(#g25)" shape-rendering="crispEdges"/>
<path d="M422.00,89.40 L435.25,71.55 L435.25,74.55 L436.30,79.73 L422.93,97.75 L422.00,92.40 Z" fill="url(#g26)" shape-rendering="crispEdges"/>
<path d="M435.25,71.55 L449.50,59.21 L449.50,62.21 L449.16,68.60 L436.30,79.73 L435.25,74.55 Z" fill="url(#g27)" shape-rendering="crispEdges"/>
<path d="M449.50,59.21 L463.25,62.57 L463.25,65.57 L463.60,72.14 L449.16,68.60 L449.50,62.21 Z" fill="url(#g28)" shape-rendering="crispEdges"/>
<path d="M463.25,62.57 L477.00,70.63 L477.00,73.63 L474.23,78.37 L463.60,72.14 L463.25,65.57 Z" fill="url(#g29)" shape-rendering="crispEdges"/>
<path d="M477.00,70.63 L490.75,78.68 L490.75,81.68 L490.82,88.08 L474.23,78.37 L477.00,73.63 Z" fill="url(#g30)" shape-rendering="crispEdges"/>
<path d="M490.75,78.68 L504.50,78.68 L504.50,81.68 L503.63,88.08 L490.82,88.08 L490.75,81.68 Z" fill="url(#g31)" shape-rendering="crispEdges"/>
<path d="M504.50,78.68 L518.25,84.71 L518.25,87.71 L515.68,93.32 L503.63,88.08 L504.50,81.68 Z" fill="url(#g32)" shape-rendering="crispEdges"/>
<path d="M518.25,84.71 L532.00,91.28 L532.00,94.28 L532.62,101.37 L515.68,93.32 L518.25,87.71 Z" fill="url(#g33)" shape-rendering="crispEdges"/>
<path d="M532.00,91.28 L546.95,114.68 L546.95,117.68 L545.26,121.15 L532.62,101.37 L532.00,94.28 Z" fill="url(#g34)" shape-rendering="crispEdges"/>
<path d="M546.95,114.68 L560.50,127.72 L560.50,130.72 L558.65,134.05 L545.26,121.15 L546.95,117.68 Z" fill="url(#g35)" shape-rendering="crispEdges"/>
<path d="M560.50,127.72 L574.05,150.86 L574.05,153.86 L571.59,156.15 L558.65,134.05 L560.50,130.72 Z" fill="url(#g36)" shape-rendering="crispEdges"/>
<path d="M574.05,150.86 L587.00,167.60 L587.00,170.60 L584.62,172.99 L571.59,156.15 L574.05,153.86 Z" fill="url(#g37)" shape-rendering="crispEdges"/>
<path d="M587.00,167.60 L600.75,187.59 L600.75,190.59 L598.41,193.04 L584.62,172.99 L587.00,170.60 Z" fill="url(#g38)" shape-rendering="crispEdges"/>
<path d="M600.75,187.59 L614.50,203.65 L614.50,206.65 L611.94,208.84 L598.41,193.04 L600.75,190.59 Z" fill="url(#g39)" shape-rendering="crispEdges"/>
<path d="M614.50,203.65 L628.25,219.65 L628.25,222.65 L630.61,230.57 L611.94,208.84 L614.50,206.65 Z" fill="url(#g40)" shape-rendering="crispEdges"/>
<path d="M628.25,219.65 L642.00,226.24 L642.00,229.24 L639.41,234.83 L630.61,230.57 L628.25,222.65 Z" fill="url(#g41)" shape-rendering="crispEdges"/>
<path d="M642.00,226.24 L655.75,232.38 L655.75,235.38 L654.12,241.45 L639.41,234.83 L642.00,229.24 Z" fill="url(#g42)" shape-rendering="crispEdges"/>
<path d="M655.75,232.38 L669.50,235.90 L669.50,238.90 L668.59,245.15 L654.12,241.45 L655.75,235.38 Z" fill="url(#g43)" shape-rendering="crispEdges"/>
<path d="M669.50,235.90 L683.25,238.45 L683.25,241.45 L682.00,247.63 L668.59,245.15 L669.50,238.90 Z" fill="url(#g44)" shape-rendering="crispEdges"/>
<path d="M683.25,238.45 L697.00,241.44 L697.00,244.44 L696.97,250.88 L682.00,247.63 L683.25,241.45 Z" fill="url(#g45)" shape-rendering="crispEdges"/>
<path d="M697.00,241.44 L710.75,238.64 L710.75,241.64 L711.92,247.85 L696.97,250.88 L697.00,244.44 Z" fill="url(#g46)" shape-rendering="crispEdges"/>
<path d="M710.75,238.64 L724.50,236.26 L724.50,239.26 L725.90,245.44 L711.92,247.85 L710.75,241.64 Z" fill="url(#g47)" shape-rendering="crispEdges"/>
<path d="M724.50,236.26 L738.25,230.12 L738.25,233.12 L740.12,239.08 L725.90,245.44 L724.50,239.26 Z" fill="url(#g48)" shape-rendering="crispEdges"/>
<path d="M738.25,230.12 L752.00,225.36 L752.00,228.36 L752.47,234.81 L740.12,239.08 L738.25,233.12 Z" fill="url(#g49)" shape-rendering="crispEdges"/>
<path d="M752.00,225.36 L765.75,226.99 L765.75,229.99 L765.67,236.37 L752.47,234.81 L752.00,228.36 Z" fill="url(#g50)" shape-rendering="crispEdges"/>
<path d="M765.75,226.99 L779.50,227.69 L779.50,230.69 L774.70,235.01 L765.67,236.37 L765.75,229.99 Z" fill="url(#g51)" shape-rendering="crispEdges"/>
<path d="M781.50,228.69 L774.70,235.01 L774.70,347.5 L781.50,347.5 Z" fill="url(#gr)"/>
</g></g>
<line x1="64" x2="780" y1="347.5" y2="347.5" stroke="#d0dade" stroke-width="1" stroke-opacity="0.85"/>
<line x1="64.50" x2="64.50" y1="347.0" y2="352.0" stroke="#bdbdbd" stroke-width="1" stroke-opacity="0.9"/>
<line x1="78.50" x2="78.50" y1="347.0" y2="352.0" stroke="#bdbdbd" stroke-width="1" stroke-opacity="0.9"/>
<line x1="91.50" x2="91.50" y1="347.0" y2="352.0" stroke="#bdbdbd" stroke-width="1" stroke-opacity="0.9"/>
<line x1="105.50" x2="105.50" y1="347.0" y2="352.0" stroke="#bdbdbd" stroke-width="1" stroke-opacity="0.9"/>
<line x1="119.50" x2="119.50" y1="347.0" y2="352.0" stroke="#bdbdbd" stroke-width="1" stroke-opacity="0.9"/>
<line x1="133.50" x2="133.50" y1="347.0" y2="352.0" stroke="#bdbdbd" stroke-width="1" stroke-opacity="0.9"/>
<line x1="146.50" x2="146.50" y1="347.0" y2="352.0" stroke="#bdbdbd" stroke-width="1" stroke-opacity="0.9"/>
<line x1="160.50" x2="160.50" y1="347.0" y2="352.0" stroke="#bdbdbd" stroke-width="1" stroke-opacity="0.9"/>
<line x1="174.50" x2="174.50" y1="347.0" y2="352.0" stroke="#bdbdbd" stroke-width="1" stroke-opacity="0.9"/>
<line x1="188.50" x2="188.50" y1="347.0" y2="352.0" stroke="#bdbdbd" stroke-width="1" stroke-opacity="0.9"/>
<line x1="201.50" x2="201.50" y1="347.0" y2="352.0" stroke="#bdbdbd" stroke-width="1" stroke-opacity="0.9"/>
<line x1="215.50" x2="215.50" y1="347.0" y2="352.0" stroke="#bdbdbd" stroke-width="1" stroke-opacity="0.9"/>
<line x1="229.50" x2="229.50" y1="347.0" y2="352.0" stroke="#bdbdbd" stroke-width="1" stroke-opacity="0.9"/>
<line x1="243.50" x2="243.50" y1="347.0" y2="352.0" stroke="#bdbdbd" stroke-width="1" stroke-opacity="0.9"/>
<line x1="256.50" x2="256.50" y1="347.0" y2="352.0" stroke="#bdbdbd" stroke-width="1" stroke-opacity="0.9"/>
<line x1="270.50" x2="270.50" y1="347.0" y2="352.0" stroke="#bdbdbd" stroke-width="1" stroke-opacity="0.9"/>
<line x1="284.50" x2="284.50" y1="347.0" y2="352.0" stroke="#bdbdbd" stroke-width="1" stroke-opacity="0.9"/>
<line x1="298.50" x2="298.50" y1="347.0" y2="352.0" stroke="#bdbdbd" stroke-width="1" stroke-opacity="0.9"/>
<line x1="311.50" x2="311.50" y1="347.0" y2="352.0" stroke="#bdbdbd" stroke-width="1" stroke-opacity="0.9"/>
<line x1="325.50" x2="325.50" y1="347.0" y2="352.0" stroke="#bdbdbd" stroke-width="1" stroke-opacity="0.9"/>
<line x1="339.50" x2="339.50" y1="347.0" y2="352.0" stroke="#bdbdbd" stroke-width="1" stroke-opacity="0.9"/>
<line x1="353.50" x2="353.50" y1="347.0" y2="352.0" stroke="#bdbdbd" stroke-width="1" stroke-opacity="0.9"/>
<line x1="366.50" x2="366.50" y1="347.0" y2="352.0" stroke="#bdbdbd" stroke-width="1" stroke-opacity="0.9"/>
<line x1="380.50" x2="380.50" y1="347.0" y2="352.0" stroke="#bdbdbd" stroke-width="1" stroke-opacity="0.9"/>
<line x1="394.50" x2="394.50" y1="347.0" y2="352.0" stroke="#bdbdbd" stroke-width="1" stroke-opacity="0.9"/>
<line x1="408.50" x2="408.50" y1="347.0" y2="352.0" stroke="#bdbdbd" stroke-width="1" stroke-opacity="0.9"/>
<line x1="421.50" x2="421.50" y1="347.0" y2="352.0" stroke="#bdbdbd" stroke-width="1" stroke-opacity="0.9"/>
<line x1="435.50" x2="435.50" y1="347.0" y2="352.0" stroke="#bdbdbd" stroke-width="1" stroke-opacity="0.9"/>
<line x1="449.50" x2="449.50" y1="347.0" y2="352.0" stroke="#bdbdbd" stroke-width="1" stroke-opacity="0.9"/>
<line x1="463.50" x2="463.50" y1="347.0" y2="352.0" stroke="#bdbdbd" stroke-width="1" stroke-opacity="0.9"/>
<line x1="476.50" x2="476.50" y1="347.0" y2="352.0" stroke="#bdbdbd" stroke-width="1" stroke-opacity="0.9"/>
<line x1="490.50" x2="490.50" y1="347.0" y2="352.0" stroke="#bdbdbd" stroke-width="1" stroke-opacity="0.9"/>
<line x1="504.50" x2="504.50" y1="347.0" y2="352.0" stroke="#bdbdbd" stroke-width="1" stroke-opacity="0.9"/>
<line x1="518.50" x2="518.50" y1="347.0" y2="352.0" stroke="#bdbdbd" stroke-width="1" stroke-opacity="0.9"/>
<line x1="531.50" x2="531.50" y1="347.0" y2="352.0" stroke="#bdbdbd" stroke-width="1" stroke-opacity="0.9"/>
<line x1="545.50" x2="545.50" y1="347.0" y2="352.0" stroke="#bdbdbd" stroke-width="1" stroke-opacity="0.9"/>
<line x1="559.50" x2="559.50" y1="347.0" y2="352.0" stroke="#bdbdbd" stroke-width="1" stroke-opacity="0.9"/>
<line x1="573.50" x2="573.50" y1="347.0" y2="352.0" stroke="#bdbdbd" stroke-width="1" stroke-opacity="0.9"/>
<line x1="586.50" x2="586.50" y1="347.0" y2="352.0" stroke="#bdbdbd" stroke-width="1" stroke-opacity="0.9"/>
<line x1="600.50" x2="600.50" y1="347.0" y2="352.0" stroke="#bdbdbd" stroke-width="1" stroke-opacity="0.9"/>
<line x1="614.50" x2="614.50" y1="347.0" y2="352.0" stroke="#bdbdbd" stroke-width="1" stroke-opacity="0.9"/>
<line x1="628.50" x2="628.50" y1="347.0" y2="352.0" stroke="#bdbdbd" stroke-width="1" stroke-opacity="0.9"/>
<line x1="641.50" x2="641.50" y1="347.0" y2="352.0" stroke="#bdbdbd" stroke-width="1" stroke-opacity="0.9"/>
<line x1="655.50" x2="655.50" y1="347.0" y2="352.0" stroke="#bdbdbd" stroke-width="1" stroke-opacity="0.9"/>
<line x1="669.50" x2="669.50" y1="347.0" y2="352.0" stroke="#bdbdbd" stroke-width="1" stroke-opacity="0.9"/>
<line x1="683.50" x2="683.50" y1="347.0" y2="352.0" stroke="#bdbdbd" stroke-width="1" stroke-opacity="0.9"/>
<line x1="696.50" x2="696.50" y1="347.0" y2="352.0" stroke="#bdbdbd" stroke-width="1" stroke-opacity="0.9"/>
<line x1="710.50" x2="710.50" y1="347.0" y2="352.0" stroke="#bdbdbd" stroke-width="1" stroke-opacity="0.9"/>
<line x1="724.50" x2="724.50" y1="347.0" y2="352.0" stroke="#bdbdbd" stroke-width="1" stroke-opacity="0.9"/>
<line x1="738.50" x2="738.50" y1="347.0" y2="352.0" stroke="#bdbdbd" stroke-width="1" stroke-opacity="0.9"/>
<line x1="751.50" x2="751.50" y1="347.0" y2="352.0" stroke="#bdbdbd" stroke-width="1" stroke-opacity="0.9"/>
<line x1="765.50" x2="765.50" y1="347.0" y2="352.0" stroke="#bdbdbd" stroke-width="1" stroke-opacity="0.9"/>
<line x1="779.50" x2="779.50" y1="347.0" y2="352.0" stroke="#bdbdbd" stroke-width="1" stroke-opacity="0.9"/>
<text class="yl" x="50" y="351.00">3.600,00</text>
<text class="yl" x="50" y="313.38">3.800,00</text>
<text class="yl" x="50" y="275.75">4.000,00</text>
<text class="yl" x="50" y="238.12">4.200,00</text>
<text class="yl" x="50" y="200.50">4.400,00</text>
<text class="yl" x="50" y="162.88">4.600,00</text>
<text class="yl" x="50" y="125.25">4.800,00</text>
<text class="yl" x="50" y="87.62">5.000,00</text>
<text class="yl" x="50" y="50.00">5.200,00</text>
<text class="xl" transform="translate(67.10,362.10) rotate(-40)">25/06/2021</text>
<text class="xl" transform="translate(80.85,362.10) rotate(-40)">02/07/2021</text>
<text class="xl" transform="translate(94.60,362.10) rotate(-40)">09/07/2021</text>
<text class="xl" transform="translate(108.35,362.10) rotate(-40)">16/07/2021</text>
<text class="xl" transform="translate(122.10,362.10) rotate(-40)">23/07/2021</text>
<text class="xl" transform="translate(135.85,362.10) rotate(-40)">30/07/2021</text>
<text class="xl" transform="translate(149.60,362.10) rotate(-40)">06/08/2021</text>
<text class="xl" transform="translate(163.35,362.10) rotate(-40)">13/08/2021</text>
<text class="xl" transform="translate(177.10,362.10) rotate(-40)">20/08/2021</text>
<text class="xl" transform="translate(190.85,362.10) rotate(-40)">27/08/2021</text>
<text class="xl" transform="translate(204.60,362.10) rotate(-40)">03/09/2021</text>
<text class="xl" transform="translate(218.35,362.10) rotate(-40)">10/09/2021</text>
<text class="xl" transform="translate(232.10,362.10) rotate(-40)">17/09/2021</text>
<text class="xl" transform="translate(245.85,362.10) rotate(-40)">24/09/2021</text>
<text class="xl" transform="translate(259.60,362.10) rotate(-40)">01/10/2021</text>
<text class="xl" transform="translate(273.35,362.10) rotate(-40)">08/10/2021</text>
<text class="xl" transform="translate(287.10,362.10) rotate(-40)">15/10/2021</text>
<text class="xl" transform="translate(300.85,362.10) rotate(-40)">22/10/2021</text>
<text class="xl" transform="translate(314.60,362.10) rotate(-40)">29/10/2021</text>
<text class="xl" transform="translate(328.35,362.10) rotate(-40)">05/11/2021</text>
<text class="xl" transform="translate(342.10,362.10) rotate(-40)">12/11/2021</text>
<text class="xl" transform="translate(355.85,362.10) rotate(-40)">19/11/2021</text>
<text class="xl" transform="translate(369.60,362.10) rotate(-40)">26/11/2021</text>
<text class="xl" transform="translate(383.35,362.10) rotate(-40)">03/12/2021</text>
<text class="xl" transform="translate(397.10,362.10) rotate(-40)">10/12/2021</text>
<text class="xl" transform="translate(410.85,362.10) rotate(-40)">17/12/2021</text>
<text class="xl" transform="translate(424.60,362.10) rotate(-40)">24/12/2021</text>
<text class="xl" transform="translate(438.35,362.10) rotate(-40)">31/12/2021</text>
<text class="xl" transform="translate(452.10,362.10) rotate(-40)">07/01/2022</text>
<text class="xl" transform="translate(465.85,362.10) rotate(-40)">14/01/2022</text>
<text class="xl" transform="translate(479.60,362.10) rotate(-40)">21/01/2022</text>
<text class="xl" transform="translate(493.35,362.10) rotate(-40)">28/01/2022</text>
<text class="xl" transform="translate(507.10,362.10) rotate(-40)">04/02/2022</text>
<text class="xl" transform="translate(520.85,362.10) rotate(-40)">11/02/2022</text>
<text class="xl" transform="translate(534.60,362.10) rotate(-40)">18/02/2022</text>
<text class="xl" transform="translate(548.35,362.10) rotate(-40)">25/02/2022</text>
<text class="xl" transform="translate(562.10,362.10) rotate(-40)">04/03/2022</text>
<text class="xl" transform="translate(575.85,362.10) rotate(-40)">11/03/2022</text>
<text class="xl" transform="translate(589.60,362.10) rotate(-40)">18/03/2022</text>
<text class="xl" transform="translate(603.35,362.10) rotate(-40)">25/03/2022</text>
<text class="xl" transform="translate(617.10,362.10) rotate(-40)">01/04/2022</text>
<text class="xl" transform="translate(630.85,362.10) rotate(-40)">08/04/2022</text>
<text class="xl" transform="translate(644.60,362.10) rotate(-40)">15/04/2022</text>
<text class="xl" transform="translate(658.35,362.10) rotate(-40)">22/04/2022</text>
<text class="xl" transform="translate(672.10,362.10) rotate(-40)">29/04/2022</text>
<text class="xl" transform="translate(685.85,362.10) rotate(-40)">06/05/2022</text>
<text class="xl" transform="translate(699.60,362.10) rotate(-40)">13/05/2022</text>
<text class="xl" transform="translate(713.35,362.10) rotate(-40)">20/05/2022</text>
<text class="xl" transform="translate(727.10,362.10) rotate(-40)">27/05/2022</text>
<text class="xl" transform="translate(740.85,362.10) rotate(-40)">03/06/2022</text>
<text class="xl" transform="translate(754.60,362.10) rotate(-40)">10/06/2022</text>
<text class="xl" transform="translate(768.35,362.10) rotate(-40)">17/06/2022</text>
<text class="xl" transform="translate(782.10,362.10) rotate(-40)">24/06/2022</text>
<g filter="url(#ts)" opacity="0.55">
<text class="tt" style="fill:#000" x="196.3" y="25.7" textLength="69.8" lengthAdjust="spacing">Shanghai</text>
<text class="tt" style="fill:#000" x="272.3" y="25.7" textLength="105.1" lengthAdjust="spacing">Containerized</text>
<text class="tt" style="fill:#000" x="386.6" y="25.7" textLength="52.8" lengthAdjust="spacing">Freight</text>
<text class="tt" style="fill:#000" x="447.6" y="25.7" textLength="40.5" lengthAdjust="spacing">Index</text>
<text class="tt" style="fill:#000" x="500.9" y="25.7" textLength="40.4" lengthAdjust="spacing">(SCFI)</text>
<text class="tt" style="fill:#000" x="551.7" y="25.7" textLength="56.0" lengthAdjust="spacing">($/TEU)</text>
</g>
<text class="tt" x="195.3" y="24.5" textLength="69.8" lengthAdjust="spacing">Shanghai</text>
<text class="tt" x="271.3" y="24.5" textLength="105.1" lengthAdjust="spacing">Containerized</text>
<text class="tt" x="385.6" y="24.5" textLength="52.8" lengthAdjust="spacing">Freight</text>
<text class="tt" x="446.6" y="24.5" textLength="40.5" lengthAdjust="spacing">Index</text>
<text class="tt" x="499.9" y="24.5" textLength="40.4" lengthAdjust="spacing">(SCFI)</text>
<text class="tt" x="550.7" y="24.5" textLength="56.0" lengthAdjust="spacing">($/TEU)</text>
</svg>
</div>
</body></html>
